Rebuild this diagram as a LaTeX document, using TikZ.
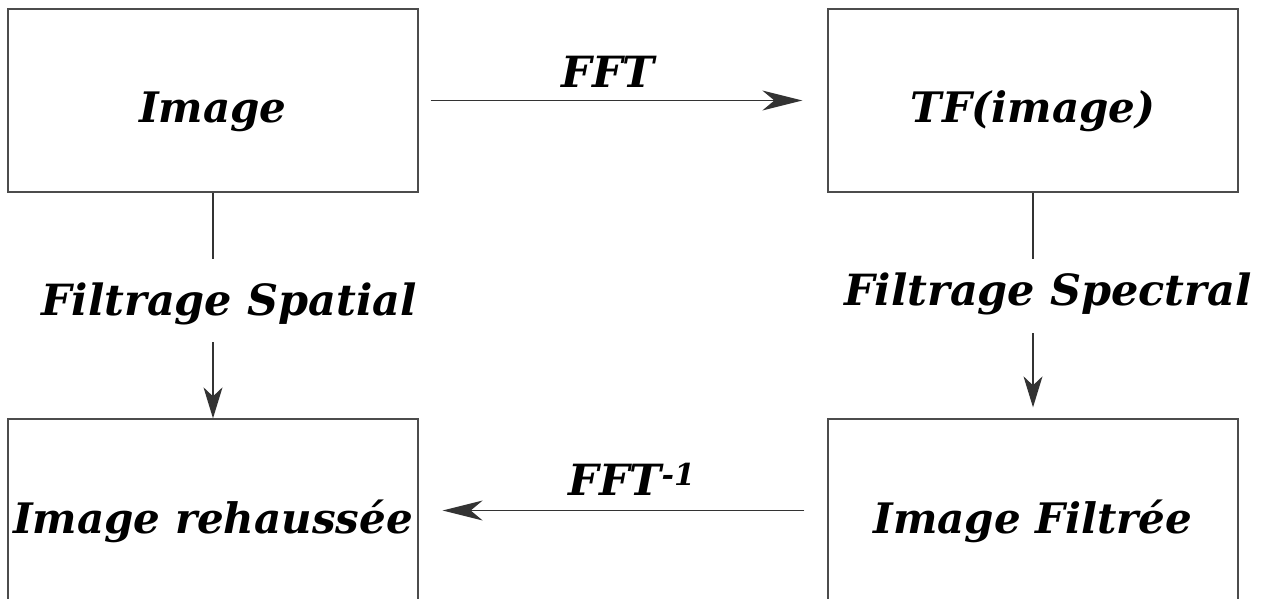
\documentclass[tikz,border=0pt]{standalone}
\usepackage{fontspec}
\setmainfont{DejaVu Serif}
\usetikzlibrary{arrows.meta}

\tikzset{
    boite/.style={draw=black!70, line width=1.3pt, minimum width=410pt, minimum height=183pt,
        text height=45pt, text depth=0pt,
        font=\fontsize{42}{48}\selectfont\bfseries\itshape},
    etiq/.style={font=\fontsize{43}{48}\selectfont\bfseries\itshape, inner sep=0pt, anchor=base},
    fleche/.style={line width=1.3pt, draw=black!80, -{Stealth[length=40pt,width=20pt,inset=12pt]}},
    flechev/.style={line width=1.3pt, draw=black!80, -{Stealth[length=31pt,width=19pt,inset=9pt]}}
}

\begin{document}
\begin{tikzpicture}[x=1pt,y=-1pt]

        \useasboundingbox (0,0) rectangle (1269,599);

        \node[boite] (img) at (213,100.5) {Image};
        \node[boite] (tf) at (1033,100.5) {TF(image)};
        \node[boite] (rehaus) at (213,510.5) {Image rehaussée};
        \node[boite] (filt) at (1033,510.5) {Image Filtrée};

        \node[etiq] (fft) at (608,88) {FFT};
        \node[etiq] (ifft) at (632,495) {FFT\textsuperscript{-1}};
        \node[etiq] (fspat) at (229,315) {Filtrage Spatial};
        \node[etiq] (fspec) at (1048,305) {Filtrage Spectral};

        \coordinate (a1) at (213,259);
        \coordinate (a2) at (213,342);
        \coordinate (b1) at (1033,259);
        \coordinate (b2) at (1033,333);

        \draw[fleche, shorten <=12pt, shorten >=25pt] (img) -- (tf);
        \draw[fleche, shorten <=23pt, shorten >=24pt] (filt) -- (rehaus);

        \draw[line width=1.3pt, black!80] (img) -- (a1);
        \draw[flechev] (a2) -- (rehaus);
        \draw[line width=1.3pt, black!80] (tf) -- (b1);
        \draw[flechev, shorten >=11pt] (b2) -- (filt);

    \end{tikzpicture}
\end{document}
